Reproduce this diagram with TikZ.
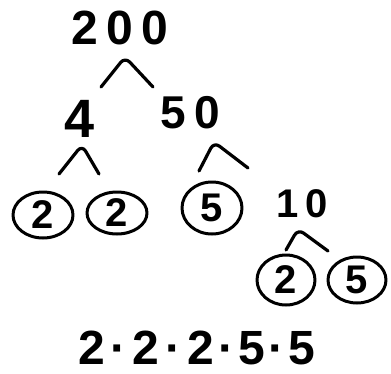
\documentclass[tikz,border=0pt]{standalone}
\usepackage{fontspec}
\usetikzlibrary{shapes.geometric}
\newfontfamily\hand{Liberation Sans}[BoldFont={Liberation Sans Bold}]
\newfontfamily\handwide{Liberation Sans}[LetterSpace=18,BoldFont={Liberation Sans Bold}]
\begin{document}
\begin{tikzpicture}[x=1pt,y=-1pt,
  line width=3pt, line cap=round, line join=round,
  num/.style={font=\hand\bfseries\fontsize{#1}{#1}\selectfont, inner sep=0pt},
  wide/.style={font=\handwide\bfseries\fontsize{#1}{#1}\selectfont, inner sep=0pt},
  prime/.style={draw, ellipse, line width=3pt, inner sep=0pt,
    minimum width=60pt, minimum height=46pt,
    font=\hand\bfseries\fontsize{40}{40}\selectfont},
  branch/.style={line width=3.2pt, rounded corners=7pt}]
\useasboundingbox (0,0) rectangle (391,373);

% tree values
\node[wide=48] (n200) at (120,28) {200};
\node[num=54]  (n4)   at (80,119) {4};
\node[wide=46] (n50)  at (190,113) {50};
\node[wide=40] (n10)  at (302,204) {10};

% circled primes
\node[prime] (p1) at (43,215) {2};
\node[prime, minimum height=42pt] (p2) at (117,213) {2};
\node[prime, minimum height=52pt] (p3) at (212,208) {5};
\node[prime, minimum width=58pt, minimum height=50pt] (p4) at (286,280) {2};
\node[prime, minimum width=58pt, minimum height=46pt] (p5) at (357,280) {5};

% branch points
\coordinate (a200l) at (101,87);  \coordinate (a200t) at (125,57);  \coordinate (a200r) at (153,87);
\coordinate (a4l)   at (59,174);  \coordinate (a4t)   at (82,145);  \coordinate (a4r)   at (99,174);
\coordinate (a50l)  at (199,171); \coordinate (a50t)  at (214,142); \coordinate (a50r)  at (248,168);
\coordinate (a10l)  at (286,250); \coordinate (a10t)  at (298,229); \coordinate (a10r)  at (328,251);

% carets joining each value to its two factors
\draw[branch] (a200l) -- (a200t) -- (a200r);
\draw[branch] (a4l) -- (a4t) -- (a4r);
\draw[branch] (a50l) -- (a50t) -- (a50r);
\draw[branch] (a10l) -- (a10t) -- (a10r);

% product of primes
\node[num=48, anchor=base, text height=34pt, text depth=0pt] (prod) at (197,364)
  {2\hspace{6pt}·\hspace{6pt}2\hspace{6pt}·\hspace{6pt}2\hspace{4pt}·\hspace{4pt}5\hspace{4pt}·\hspace{4pt}5};
\end{tikzpicture}
\end{document}
